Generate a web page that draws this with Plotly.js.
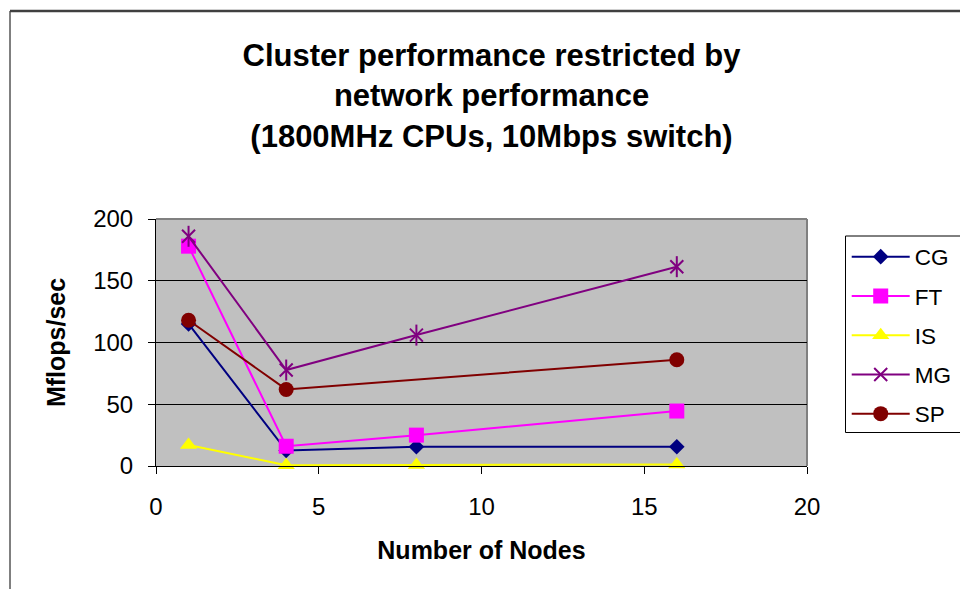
<!DOCTYPE html>
<html>
<head>
<meta charset="utf-8">
<script src="https://cdn.plot.ly/plotly-3.0.1.min.js"></script>
<style>html,body{margin:0;padding:0;background:#fff;}#chart{width:960px;height:589px;}</style>
</head>
<body>
<div id="chart"></div>
<script>
// Data
const nodes = [1, 4, 8, 16];
const nodesSP = [1, 4, 16];
const cg = [115, 12.5, 15.6, 15.6];
const ft = [178, 16, 25, 44.5];
const is = [17, 0.6, 0.8, 1.2];
const mg = [186, 77.7, 106, 161.4];
const sp = [118, 62, 86];
const seriesNames = ['CG', 'FT', 'IS', 'MG', 'SP'];
const xTicks = [0, 5, 10, 15, 20];
const yTicks = [0, 50, 100, 150, 200];

const FONT = 'Liberation Sans, Arial, sans-serif';

function tr(name, x, y, color, symbol, size, extra) {
  return Object.assign({
    type: 'scatter', mode: 'lines+markers', name: name, x: x, y: y,
    legendgroup: name,
    line: {color: color, width: 2},
    marker: {color: color, symbol: symbol, size: size, line: {color: color, width: 0}},
    cliponaxis: false
  }, extra || {});
}

const data = [
  tr(seriesNames[0], nodes, cg, '#000080', 'diamond', 12),
  tr(seriesNames[1], nodes, ft, '#ff00ff', 'square', 15),
  tr(seriesNames[2], nodes, is, '#ffff00', 'triangle-up', 15),
  tr(seriesNames[3], nodes, mg, '#800080', 'x-thin-open', 13,
     {marker: {color: '#800080', symbol: 'x-thin-open', size: 13, line: {color: '#800080', width: 2}}}),
  {type: 'scatter', mode: 'markers', x: nodes, y: mg, showlegend: false, legendgroup: seriesNames[3],
   marker: {color: '#800080', symbol: 'line-ns-open', size: 15, line: {color: '#800080', width: 2}}, cliponaxis: false, hoverinfo: 'skip'},
  tr(seriesNames[4], nodesSP, sp, '#800000', 'circle', 15)
];

const layout = {
  width: 960, height: 589,
  margin: {l: 156, r: 153, t: 219, b: 123, pad: 0, autoexpand: false},
  paper_bgcolor: '#ffffff',
  plot_bgcolor: '#c0c0c0',
  font: {family: FONT, color: '#000000'},
  showlegend: true,
  title: {
    text: '<b>Cluster performance restricted by<br>network performance<br>(1800MHz CPUs, 10Mbps switch)</b>',
    font: {family: FONT, size: 31, color: '#000'},
    x: 0.512, xref: 'container', xanchor: 'center',
    y: 1 - 66 / 589, yref: 'container', yanchor: 'top'
  },
  xaxis: {
    range: [0, 20], tickvals: xTicks, ticktext: xTicks.map(String),
    showgrid: false, zeroline: false,
    showline: true, linecolor: '#000', linewidth: 1,
    ticks: 'outside', ticklen: 7, tickcolor: '#000', tickwidth: 1,
    tickfont: {family: FONT, size: 24}, ticklabelstandoff: 12,
    title: {text: '<b>Number of Nodes</b>', font: {family: FONT, size: 25}, standoff: 22}
  },
  yaxis: {
    range: [0, 200], tickvals: yTicks, ticktext: yTicks.map(String),
    showgrid: true, gridcolor: '#000', gridwidth: 1, zeroline: false,
    showline: true, linecolor: '#000', linewidth: 1,
    ticks: 'outside', ticklen: 7, tickcolor: '#000', tickwidth: 1,
    tickfont: {family: FONT, size: 24}, ticklabelstandoff: 10,
    title: {text: '<b>Mflops/sec</b>', font: {family: FONT, size: 25}, standoff: 20}
  },
  legend: {
    x: 1.061, xanchor: 'left', y: 0.933, yanchor: 'top',
    bgcolor: 'rgba(0,0,0,0)', borderwidth: 0,
    font: {family: FONT, size: 22.5},
    traceorder: 'grouped', tracegroupgap: 7,
    itemwidth: 58
  },
  shapes: [
    // outer chart border
    {type: 'rect', xref: 'paper', yref: 'paper',
     x0: (10 - 156) / 651, x1: (1000 - 156) / 651, y0: (466 - 620) / 247, y1: (466 - 11) / 247,
     line: {color: '#000', width: 1}, fillcolor: 'rgba(0,0,0,0)', layer: 'below'},
    {type: 'line', xref: 'paper', yref: 'paper',
     x0: (10 - 156) / 651, x1: (1000 - 156) / 651, y0: (466 - 11) / 247, y1: (466 - 11) / 247,
     line: {color: '#404040', width: 2.5}},
    // plot area border (gray top/right)
    {type: 'line', xref: 'paper', yref: 'paper', x0: 0, x1: 1, y0: 1, y1: 1,
     line: {color: '#808080', width: 2}, layer: 'below'},
    {type: 'line', xref: 'paper', yref: 'paper', x0: 1, x1: 1, y0: 0, y1: 1,
     line: {color: '#808080', width: 2}, layer: 'below'},
    // legend box
    {type: 'rect', xref: 'paper', yref: 'paper',
     x0: (845.5 - 156) / 651, x1: (1000 - 156) / 651, y0: (466 - 432.5) / 247, y1: (466 - 236) / 247,
     line: {color: '#000', width: 1}, fillcolor: 'rgba(0,0,0,0)'}
  ]
};

Plotly.newPlot('chart', data, layout, {displayModeBar: false, staticPlot: true});
</script>
</body>
</html>
